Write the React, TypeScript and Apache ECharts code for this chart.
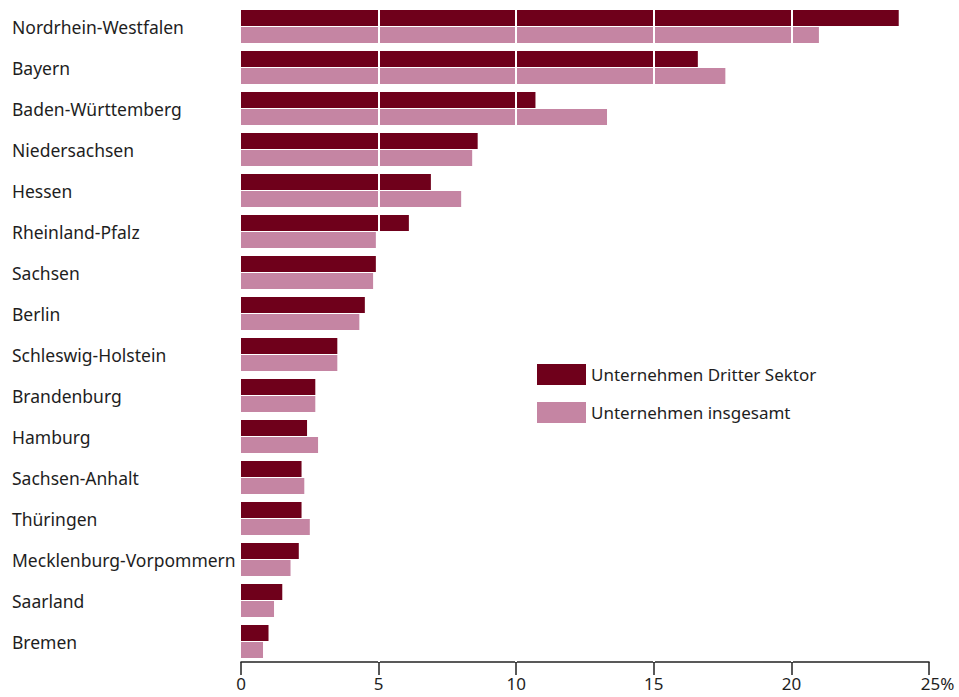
import React, { useEffect, useRef } from "react";
import * as echarts from "echarts";

const categories = [
  "Nordrhein-Westfalen",
  "Bayern",
  "Baden-Württemberg",
  "Niedersachsen",
  "Hessen",
  "Rheinland-Pfalz",
  "Sachsen",
  "Berlin",
  "Schleswig-Holstein",
  "Brandenburg",
  "Hamburg",
  "Sachsen-Anhalt",
  "Thüringen",
  "Mecklenburg-Vorpommern",
  "Saarland",
  "Bremen",
];
const dritterSektor = [23.9, 16.6, 10.7, 8.6, 6.9, 6.1, 4.9, 4.5, 3.5, 2.7, 2.4, 2.2, 2.2, 2.1, 1.5, 1.0];
const insgesamt = [21.0, 17.6, 13.3, 8.4, 8.0, 4.9, 4.8, 4.3, 3.5, 2.7, 2.8, 2.3, 2.5, 1.8, 1.2, 0.8];
const seriesNames = ["Unternehmen Dritter Sektor", "Unternehmen insgesamt"];
const gridValues = [5, 10, 15, 20];

const FONT = "Noto Sans";
const DARK = "#6f001b";
const LIGHT = "#c585a3";
const TEXT = "#1e1e1e";

export default function App() {
  const ref = useRef<HTMLDivElement>(null);
  useEffect(() => {
    if (!ref.current) return;
    const chart = echarts.init(ref.current, undefined, { renderer: "svg" });
    chart.setOption({
      animation: false,
      textStyle: { fontFamily: FONT },
      grid: { left: 241, right: 30, top: 6, height: 656, containLabel: false },
      legend: {
        orient: "vertical",
        left: 532,
        top: 359,
        z: 20,
        itemWidth: 49,
        itemHeight: 21,
        itemGap: 17,
        icon: "rect",
        textStyle: { fontFamily: FONT, fontSize: 17, color: TEXT },
        data: seriesNames,
      },
      xAxis: {
        type: "value",
        min: 0,
        max: 25,
        interval: 5,
        splitLine: { show: false },
        axisLine: { show: true, lineStyle: { color: "#222", width: 1.5 } },
        axisTick: { show: true, length: 13, lineStyle: { color: "#222", width: 1.5 } },
        axisLabel: {
          fontFamily: FONT,
          fontSize: 17,
          color: TEXT,
          margin: 13,
          formatter: (v: number) => (v === 25 ? "{p|25%}" : String(v)),
          rich: { p: { fontFamily: FONT, fontSize: 17, color: TEXT, padding: [0, 0, 0, 17] } },
        },
      },
      yAxis: {
        type: "category",
        inverse: true,
        data: categories,
        axisLine: { show: false },
        axisTick: { show: false },
        axisLabel: {
          fontFamily: FONT,
          fontSize: 17.5,
          color: TEXT,
          align: "left",
          margin: 229,
        },
      },
      series: [
        {
          name: seriesNames[0],
          type: "bar",
          data: dritterSektor,
          itemStyle: { color: DARK },
          barGap: "6%",
          barCategoryGap: "19%",
          markLine: {
            silent: true,
            symbol: "none",
            label: { show: false },
            lineStyle: { color: "#ffffff", width: 2, type: "solid" },
            data: gridValues.map((v) => ({ xAxis: v })),
            z: 10,
          },
        },
        {
          name: seriesNames[1],
          type: "bar",
          data: insgesamt,
          itemStyle: { color: LIGHT },
          barGap: "6%",
          barCategoryGap: "19%",
        },
      ],
    });
    return () => chart.dispose();
  }, []);
  return (
    <div
      ref={ref}
      style={{ position: "fixed", left: 0, top: 0, width: 959, height: 697, background: "#fff" }}
    />
  );
}
